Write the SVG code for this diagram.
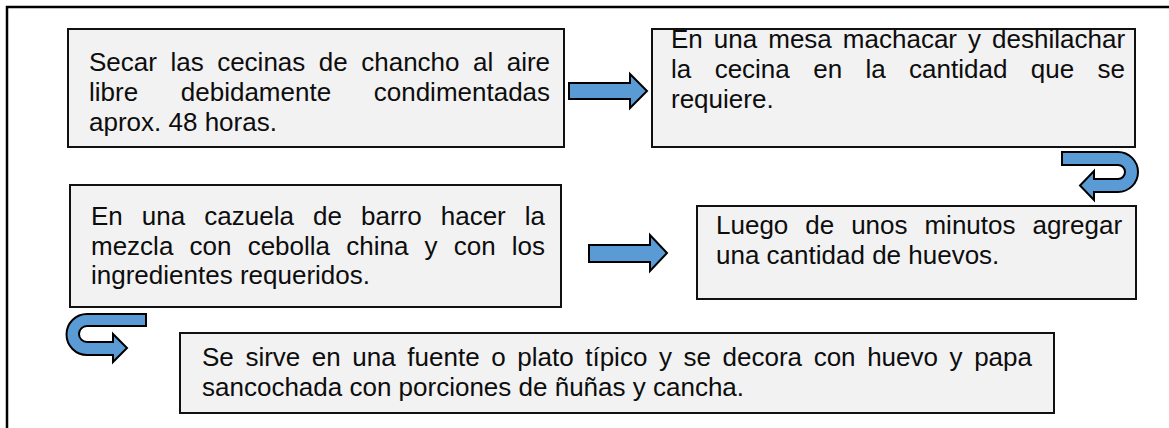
<svg xmlns="http://www.w3.org/2000/svg" width="1169" height="428" viewBox="0 0 1169 428">
  <style>
    .box { fill: #f2f2f2; stroke: #111; stroke-width: 2; }
    .t { font-family: "Liberation Sans", Arial, sans-serif; font-size: 26px; fill: #0d0d0d; }
    .arw { fill: #5b9bd5; stroke: #000; stroke-width: 2; stroke-linejoin: miter; }
    .frame { fill: none; stroke: #000; stroke-width: 2.5; }
  </style>
  <defs>
    <clipPath id="clip5"><rect x="180" y="333" width="874" height="68"/></clipPath>
  </defs>
  <rect width="1169" height="428" fill="#ffffff"/>
  <rect class="frame" x="7" y="7" width="1200" height="460"/>

  <g id="node1">
    <rect class="box" x="68" y="29" width="496" height="118"/>
    <text class="t" x="89" y="71" word-spacing="6.27">Secar las cecinas de chancho al aire</text>
    <text class="t" x="89" y="101" word-spacing="35.41">libre debidamente condimentadas</text>
    <text class="t" x="89" y="131">aprox. 48 horas.</text>
  </g>

  <g id="node2">
    <rect class="box" x="652" y="29" width="483" height="118"/>
    <text class="t" x="671" y="48" word-spacing="3.81">En una mesa machacar y deshilachar</text>
    <text class="t" x="671" y="78" word-spacing="16.17">la cecina en la cantidad que se</text>
    <text class="t" x="671" y="108">requiere.</text>
  </g>

  <g id="node3">
    <rect class="box" x="70" y="185" width="491" height="122"/>
    <text class="t" x="91" y="225" word-spacing="11.84">En una cazuela de barro hacer la</text>
    <text class="t" x="91" y="254.5" word-spacing="8.96">mezcla con cebolla china y con los</text>
    <text class="t" x="91" y="284">ingredientes requeridos.</text>
  </g>

  <g id="node4">
    <rect class="box" x="697" y="206" width="439" height="93"/>
    <text class="t" x="716" y="234" word-spacing="9.73">Luego de unos minutos agregar</text>
    <text class="t" x="716" y="264">una cantidad de huevos.</text>
  </g>

  <g id="node5">
    <rect class="box" x="180" y="333" width="874" height="80"/>
    <g clip-path="url(#clip5)">
      <text class="t" x="202" y="366" word-spacing="4.36">Se sirve en una fuente o plato típico y se decora con huevo y papa</text>
      <text class="t" x="202" y="396">sancochada con porciones de ñuñas y cancha.</text>
    </g>
  </g>

  <g id="connectors">
    <path class="arw" d="M569,83 L630,83 L630,74 L647,91 L630,108 L630,99 L569,99 Z"/>
    <path class="arw" d="M1062,152 L1118,152 A20,20 0 0 1 1118,192 L1094,192 L1094,200 L1080,185.5 L1094,171 L1094,179 L1118,179 A7,7 0 0 0 1118,165 L1062,165 Z"/>
    <path class="arw" d="M589,245 L650,245 L650,235 L667,253 L650,271 L650,262 L589,262 Z"/>
    <path class="arw" d="M146,314 L87,314 A20.5,20.5 0 0 0 87,355 L113,355 L113,362 L127,348 L113,334 L113,342 L87,342 A8,8 0 0 1 87,326 L146,326 Z"/>
  </g>
</svg>
